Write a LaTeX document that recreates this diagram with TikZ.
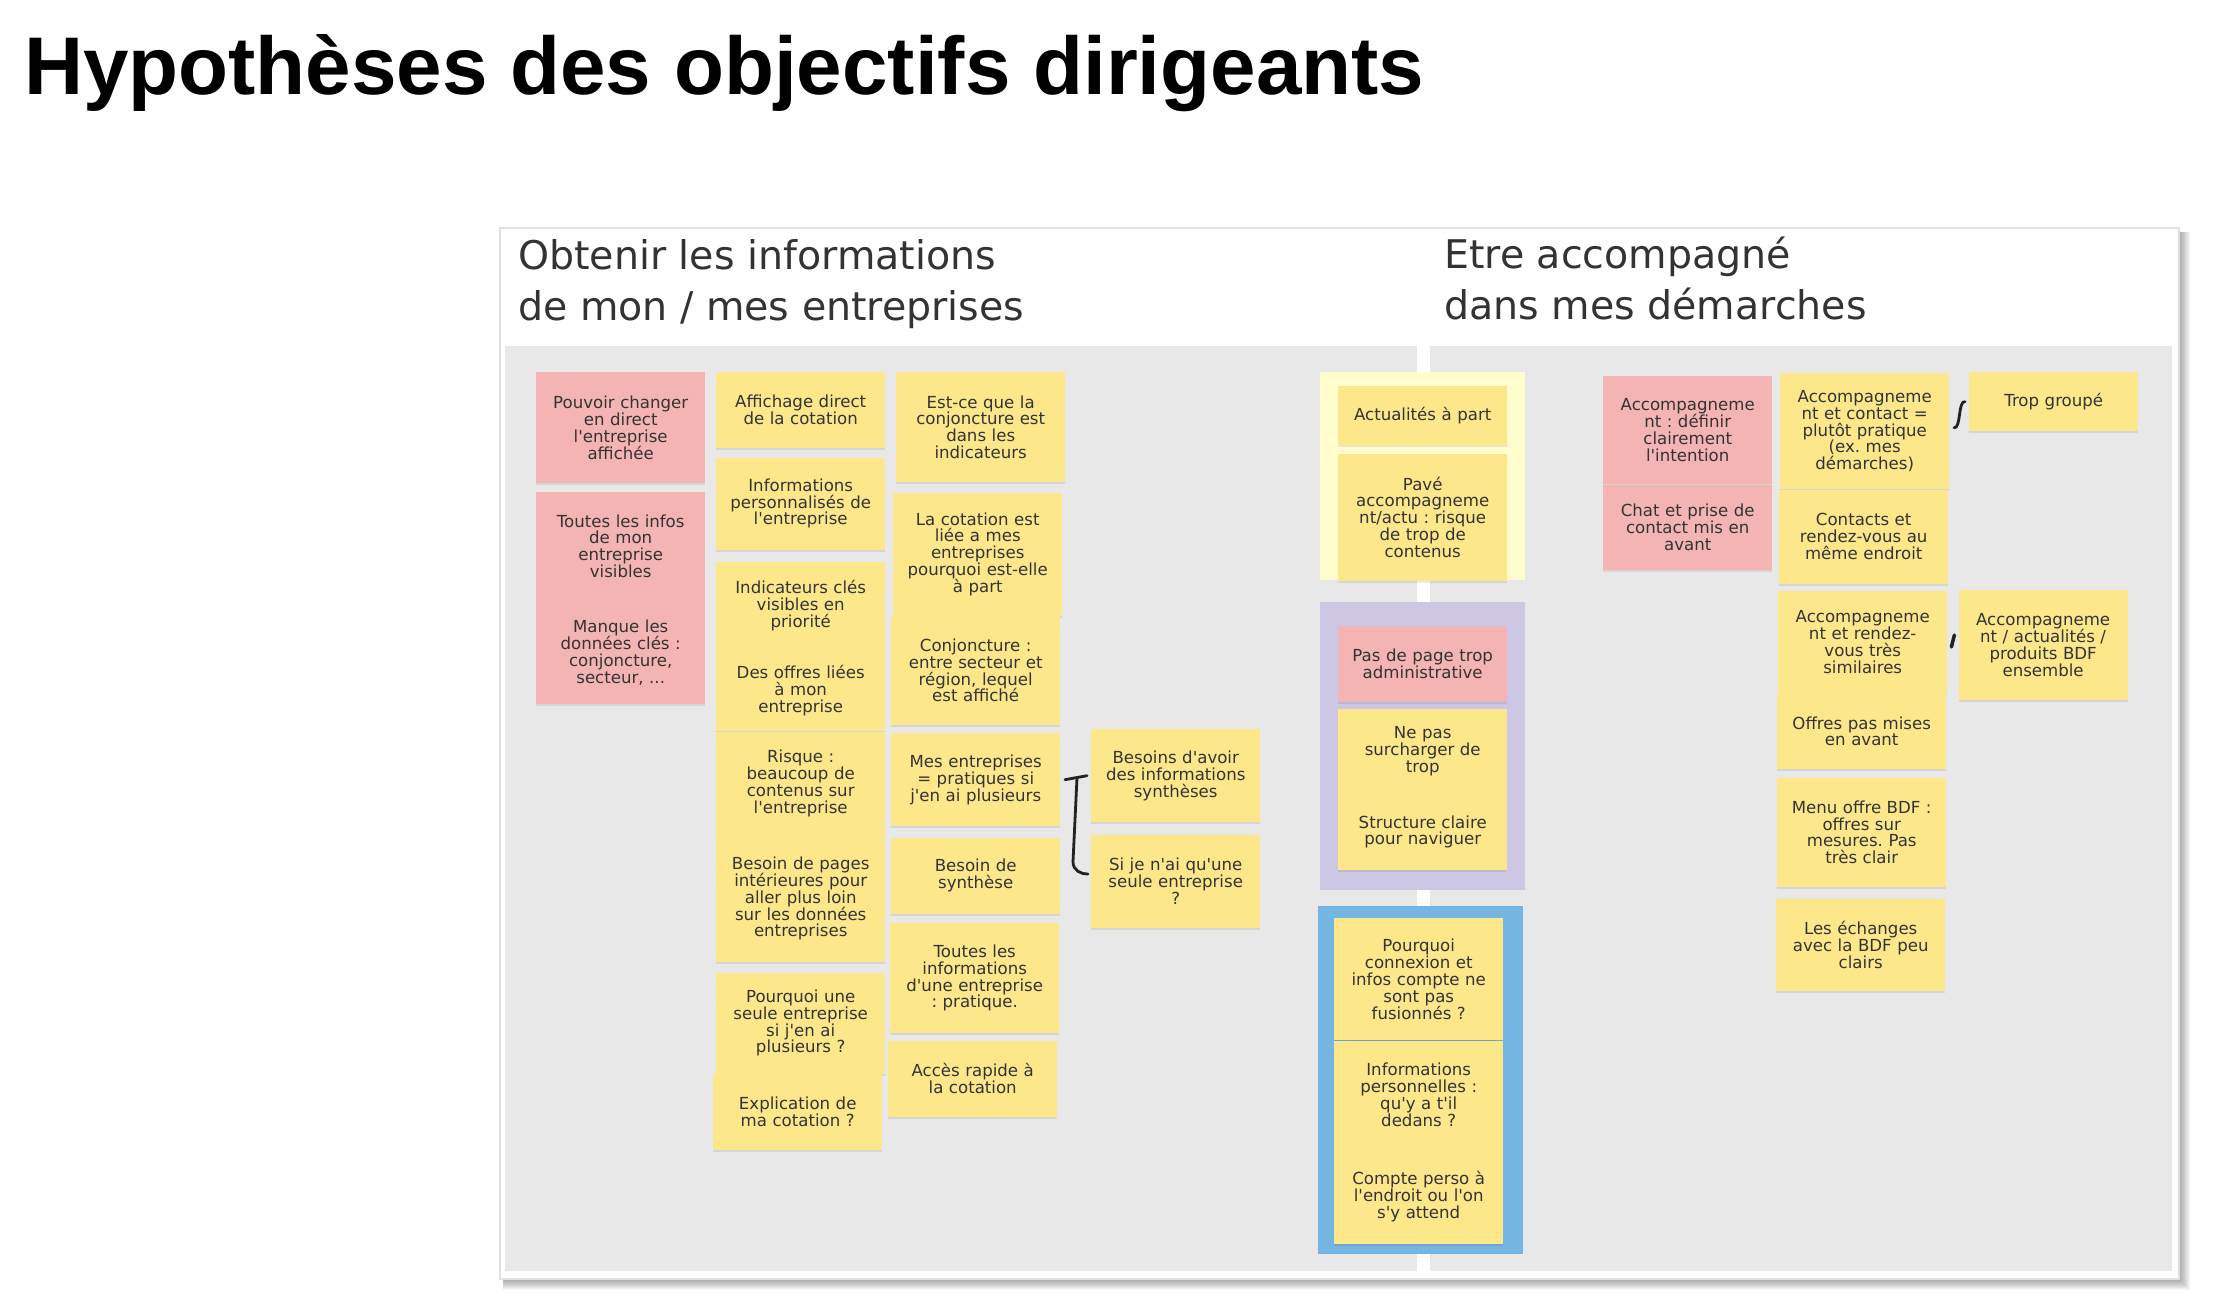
\documentclass[tikz,border=0pt]{standalone}
\usepackage{fontspec}
\setmainfont{DejaVu Sans}[Ligatures=TeXOff]
\newfontfamily\titlefont{Liberation Sans}
\usetikzlibrary{positioning,shadows}
\definecolor{stickyyellow}{HTML}{FCE78A}
\definecolor{stickypink}{HTML}{F4B4B4}
\definecolor{lightframe}{HTML}{FFFCCE}
\definecolor{purpleframe}{HTML}{CEC7E3}
\definecolor{blueframe}{HTML}{74B6E3}
\definecolor{panelgray}{HTML}{E8E8E8}
\definecolor{cardline}{HTML}{E0E0E0}
\definecolor{inkgray}{HTML}{333333}
\definecolor{penblack}{HTML}{222222}
\frenchspacing

\begin{document}
\begin{tikzpicture}[x=1pt, y=-1pt]
			\tikzset{
				sticky/.style={rectangle, minimum width=169pt, text width=160pt, inner sep=0pt, align=center, fill=stickyyellow, text=inkgray, font=\fontsize{16.6}{16.8}\selectfont, drop shadow={shadow xshift=0pt, shadow yshift=-2pt, opacity=0.08, fill=black}},
				pinksticky/.style={sticky, fill=stickypink},
				heading/.style={anchor=base west, inner sep=0pt, align=left, text=inkgray, font=\fontsize{39.5}{51}\selectfont},
				pen/.style={draw=penblack, line width=2.8pt, line cap=round, line join=round},
			}
			\useasboundingbox (0,0) rectangle (2232,1314);
			\node[anchor=base west, inner sep=0pt, font=\titlefont\bfseries\fontsize{81.8}{90}\selectfont](title) at (24,95){Hypothèses des objectifs dirigeants};
			%card and panels
			\foreach \d in {1,...,10}
				\fill[black, opacity=0.035] (503,232) rectangle (2180+\d,1280+\d);
			\draw[draw=cardline, line width=1.5pt, fill=white] (500,228) rectangle (2179,1279);
			\fill[panelgray] (505,346) rectangle (1417,1271);
			\fill[panelgray] (1430,346) rectangle (2172,1271);
			\node[heading](objleft) at (518,320){Obtenir les informations\\de mon / mes entreprises};
			\node[heading](objright) at (1444,319){Etre accompagné\\dans mes démarches};
			%group frames
			\fill[lightframe] (1320,372) rectangle (1525,580);
			\fill[purpleframe] (1320,602) rectangle (1525,890);
			\fill[blueframe] (1318,906) rectangle (1523,1254);
			%first column
			\node[pinksticky, minimum height=111pt, anchor=north west](p1) at (536,372){Pouvoir changer\\en direct\\l'entreprise\\affichée};
			\node[pinksticky, minimum height=109pt, below=8pt of p1](p2){Toutes les infos\\de mon\\entreprise\\visibles};
			\node[pinksticky, minimum height=103pt, below=0pt of p2](p3){Manque les\\données clés :\\conjoncture,\\secteur, ...};
			%second column
			\node[sticky, minimum height=76pt, anchor=north west](y1) at (716,372){Affichage direct\\de la cotation};
			\node[sticky, minimum height=92pt, below=9pt of y1](y2){Informations\\personnalisés de\\l'entreprise};
			\node[sticky, minimum height=87pt, below=12pt of y2](y3){Indicateurs clés\\visibles en\\priorité};
			\node[sticky, minimum height=82pt, below=0pt of y3](y4){Des offres liées\\à mon\\entreprise};
			\node[sticky, minimum height=103pt, below=0pt of y4](y5){Risque :\\beaucoup de\\contenus sur\\l'entreprise};
			\node[sticky, minimum height=127pt, below=0pt of y5](y6){Besoin de pages\\intérieures pour\\aller plus loin\\sur les données\\entreprises};
			\node[sticky, minimum height=101pt, below=10pt of y6](y7){Pourquoi une\\seule entreprise\\si j'en ai\\plusieurs ?};
			\node[sticky, minimum height=76pt, below=0pt of y7, xshift=-3pt](y8){Explication de\\ma cotation ?};
			%third column
			\node[sticky, minimum height=110pt, anchor=north west](z1) at (896,372){Est-ce que la\\conjoncture est\\dans les\\indicateurs};
			\node[sticky, minimum height=123pt, below=10pt of z1, xshift=-3pt](z2){La cotation est\\liée a mes\\entreprises\\pourquoi est-elle\\à part};
			\node[sticky, minimum height=109pt, below=0pt of z2, xshift=-2pt](z3){Conjoncture :\\entre secteur et\\région, lequel\\est affiché};
			\node[sticky, minimum height=93pt, below=8pt of z3](z4){Mes entreprises\\= pratiques si\\j'en ai plusieurs};
			\node[sticky, minimum height=76pt, below=11pt of z4](z5){Besoin de\\synthèse};
			\node[sticky, minimum height=110pt, below=9pt of z5, xshift=-1pt](z6){Toutes les\\informations\\d'une entreprise\\: pratique.};
			\node[sticky, minimum height=76pt, below=7pt of z6, xshift=-2pt](z7){Accès rapide à\\la cotation};
			%fourth column
			\node[sticky, minimum height=93pt, anchor=north west](w1) at (1091,729){Besoins d'avoir\\des informations\\synthèses};
			\node[sticky, minimum height=93pt, below=12pt of w1](w2){Si je n'ai qu'une\\seule entreprise\\?};
			%middle groups
			\node[sticky, minimum height=59pt, anchor=north west](m1) at (1338,386){Actualités à part};
			\node[sticky, minimum height=127pt, below=8pt of m1](m2){Pavé\\accompagneme\\nt/actu : risque\\de trop de\\contenus};
			\node[pinksticky, minimum height=76pt, anchor=north west](m3) at (1338,626){Pas de page trop\\administrative};
			\node[sticky, minimum height=85pt, below=6pt of m3](m4){Ne pas\\surcharger de\\trop};
			\node[sticky, minimum height=76pt, below=0pt of m4](m5){Structure claire\\pour naviguer};
			\node[sticky, minimum height=122pt, anchor=north west](m6) at (1334,918){Pourquoi\\connexion et\\infos compte ne\\sont pas\\fusionnés ?};
			\node[sticky, minimum height=108pt, below=0pt of m6](m7){Informations\\personnelles :\\qu'y a t'il\\dedans ?};
			\node[sticky, minimum height=95pt, below=0pt of m7](m8){Compte perso à\\l'endroit ou l'on\\s'y attend};
			%right side
			\node[pinksticky, minimum height=108pt, anchor=north west](r1) at (1603,376){Accompagneme\\nt : définir\\clairement\\l'intention};
			\node[pinksticky, minimum height=85pt, below=0pt of r1](r2){Chat et prise de\\contact mis en\\avant};
			\node[sticky, minimum height=116pt, anchor=north west](r3) at (1780,373){Accompagneme\\nt et contact =\\plutôt pratique\\(ex. mes\\démarches)};
			\node[sticky, minimum height=94pt, below=0pt of r3, xshift=-1pt](r4){Contacts et\\rendez-vous au\\même endroit};
			\node[sticky, minimum height=102pt, below=7pt of r4, xshift=-1pt](r6){Accompagneme\\nt et rendez-\\vous très\\similaires};
			\node[sticky, minimum height=76pt, below=0pt of r6, xshift=-1pt](r8){Offres pas mises\\en avant};
			\node[sticky, minimum height=109pt, below=8pt of r8](r9){Menu offre BDF :\\offres sur\\mesures. Pas\\très clair};
			\node[sticky, minimum height=92pt, below=12pt of r9, xshift=-1pt](r10){Les échanges\\avec la BDF peu\\clairs};
			\node[sticky, minimum height=59pt, anchor=north west](r5) at (1969,372){Trop groupé};
			\node[sticky, minimum height=110pt, right=11pt of r6, yshift=-3pt](r7){Accompagneme\\nt / actualités /\\produits BDF\\ensemble};
			%draw marks
			\coordinate (bktop) at ([xshift=-4pt]w1.west);
			\coordinate (bkbot) at ([xshift=-3pt, yshift=7pt]w2.west);
			\draw[pen] ([xshift=-22pt, yshift=-4pt]bktop) -- (bktop);
			\draw[pen] ([xshift=-10pt, yshift=-2pt]bktop) -- ++(-4,84) .. controls +(0,9) and +(-7,0) .. (bkbot);
			\coordinate (kta) at ([xshift=-4pt]r5.west);
			\coordinate (ktb) at ([xshift=-15pt, yshift=-26pt]r5.west);
			\draw[pen] (kta) .. controls +(-7,-2) and +(7,2) .. (ktb);
			\coordinate (kra) at ([xshift=-4pt, yshift=10pt]r7.west);
			\coordinate (krb) at ([xshift=-7pt, yshift=-2pt]r7.west);
			\draw[pen, line width=3.5pt] (kra) -- (krb);
		\end{tikzpicture}
\end{document}
